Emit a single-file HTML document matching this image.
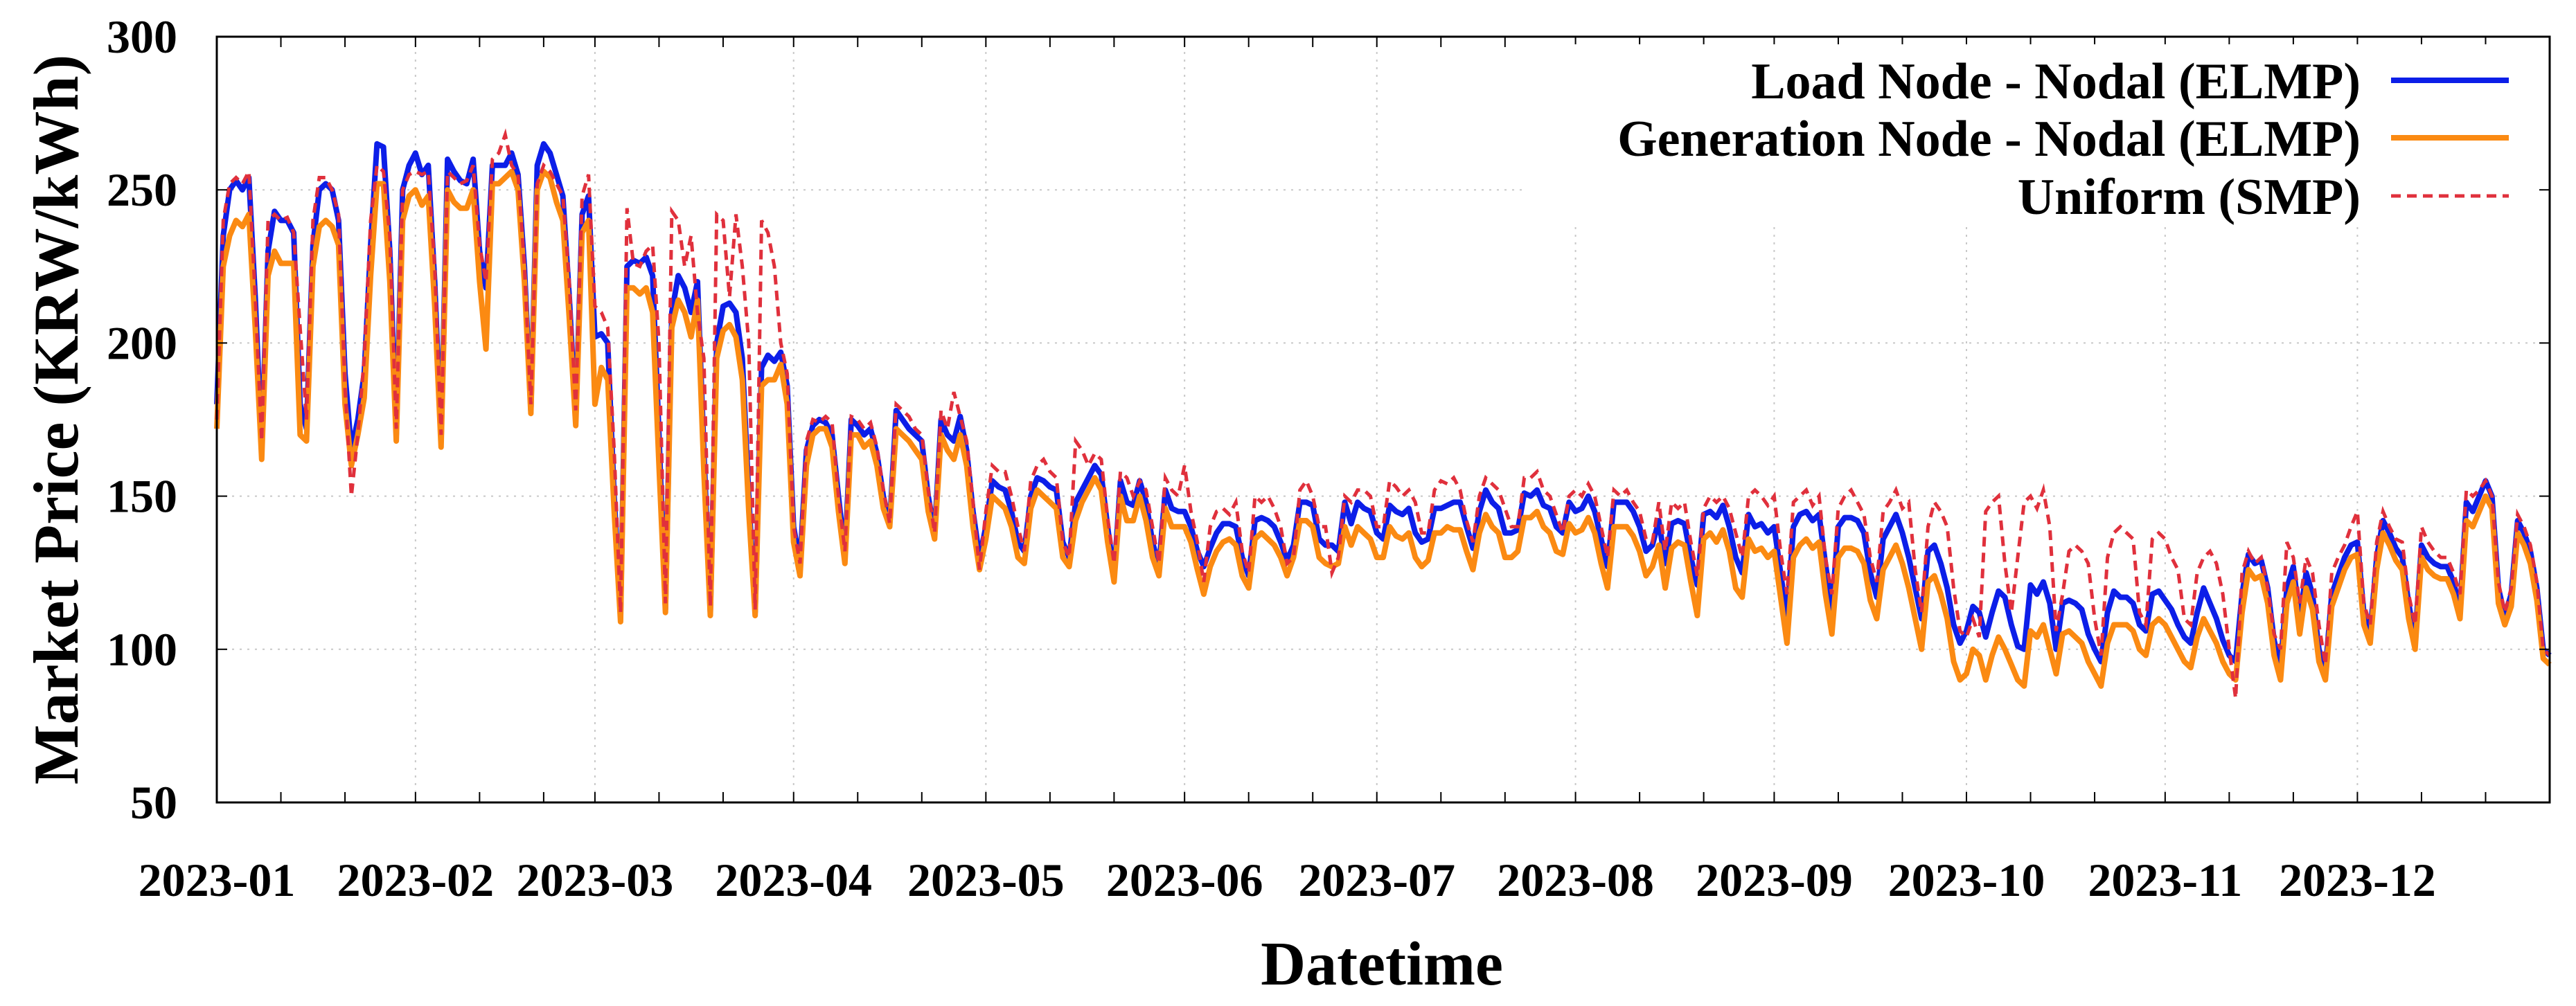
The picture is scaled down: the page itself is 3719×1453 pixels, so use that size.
<!DOCTYPE html>
<html><head><meta charset="utf-8"><style>
html,body{margin:0;padding:0;background:#fff;}
svg{display:block;font-family:"Liberation Serif",serif;font-weight:bold;}
</style></head><body>
<svg id="chart" width="3719" height="1453" viewBox="0 0 3719 1453" xmlns="http://www.w3.org/2000/svg">
<rect x="0" y="0" width="3719" height="1453" fill="#fff"/>
<g id="grid"></g>
<g id="series"></g>
<rect x="313" y="53" width="3368" height="1106" fill="none" stroke="#000" stroke-width="3"/>
<g id="ticks"></g>
<text transform="translate(112,606) rotate(-90)" text-anchor="middle" font-size="92">Market Price (KRW/kWh)</text>
<text x="1995" y="1422" text-anchor="middle" font-size="90">Datetime</text>
<g>
<rect x="2200" y="64" width="1465" height="260" fill="#fff"/>
<text x="3408" y="142" text-anchor="end" font-size="74">Load Node - Nodal (ELMP)</text>
<line x1="3452" y1="116" x2="3622" y2="116" stroke="#0c1ee8" stroke-width="8"/>
<text x="3408" y="225" text-anchor="end" font-size="74">Generation Node - Nodal (ELMP)</text>
<line x1="3452" y1="199" x2="3622" y2="199" stroke="#fb8a12" stroke-width="8"/>
<text x="3408" y="309" text-anchor="end" font-size="74">Uniform (SMP)</text>
<line x1="3452" y1="283" x2="3622" y2="283" stroke="#e0303c" stroke-width="5" stroke-dasharray="14,9"/>
</g>
</svg>
<script>
const yTicks=[50,100,150,200,250,300];
const monthLabels=["2023-01","2023-02","2023-03","2023-04","2023-05","2023-06","2023-07","2023-08","2023-09","2023-10","2023-11","2023-12"];
const monthStartDays=[0,31,59,90,120,151,181,212,243,273,304,334];
const loadNode=[
180,235,250,253,250,254,215, 165,230,243,240,240,236,180, 172,232,250,252,250,240,190, 165,175,190,232,265,264,230,
170,250,258,262,255,258,220, 168,260,256,253,252,260,230, 218,258,258,258,262,255,225, 178,258,265,262,255,248,215,
175,242,248,202,203,200,150, 111,225,227,226,228,222,170, 113,210,222,218,210,220,165, 112,200,212,213,210,195,150,
112,192,196,194,197,186,140, 128,165,173,175,174,170,150, 131,175,173,170,172,164,150, 141,178,175,172,170,168,150,
138,175,170,168,176,165,145, 130,140,155,153,152,145,135, 132,150,156,155,153,152,135, 130,148,152,156,160,157,140,
124,155,148,147,155,148,135, 127,152,146,145,145,140,132, 127,133,138,141,141,140,130, 124,142,143,142,140,135,129,
134,148,148,147,136,134,134, 132,148,141,148,146,145,138, 136,147,145,144,146,138,135, 136,146,146,147,148,148,140,
133,145,152,148,146,138,138, 139,151,150,152,147,146,140, 138,148,145,146,150,145,136, 127,148,148,148,145,140,132,
134,142,128,141,142,141,130, 121,144,145,143,147,140,130, 125,144,140,141,138,140,125, 110,140,144,145,142,144,128,
113,140,143,143,142,138,125, 117,136,140,144,138,130,120, 110,132,134,128,120,108,102, 106,114,112,104,112,119,117,
108,101,100,121,118,122,115, 100,115,116,115,113,105,100, 96,112,119,117,117,115,108, 106,118,119,116,113,108,104,
102,112,120,115,110,103,98, 96,118,131,128,129,120,103, 94,120,127,110,125,118,100, 93,118,124,130,134,135,112,
105,130,142,138,133,130,115, 103,134,130,128,127,127,122, 113,148,145,150,155,150,120, 111,118,142,138,132,120,100,
98];
const generationNode=[
172,225,235,240,238,242,205, 162,222,230,226,226,226,170, 168,225,238,240,238,232,180, 160,170,182,222,252,252,220,
168,240,248,250,245,248,212, 166,250,246,244,244,250,220, 198,252,252,254,256,250,220, 177,250,256,254,246,240,208,
173,236,240,180,192,188,145, 109,218,218,216,218,210,160, 112,205,214,210,202,214,158, 111,195,204,206,202,188,145,
111,186,188,188,193,180,135, 124,160,170,172,172,166,145, 128,170,170,166,168,160,146, 140,172,170,168,165,162,145,
136,170,165,162,170,160,140, 126,136,150,148,146,140,130, 128,146,152,150,148,146,130, 127,142,148,152,156,152,135,
122,150,142,142,150,142,130, 124,146,140,140,140,135,126, 118,127,132,135,136,134,124, 120,136,138,136,134,130,124,
130,142,142,140,130,128,127, 128,140,134,140,138,136,130, 130,140,137,136,138,130,127, 129,138,138,140,139,139,132,
126,138,144,140,138,130,130, 132,143,143,145,140,138,132, 131,141,138,139,143,138,128, 120,140,140,140,137,132,124,
127,134,120,133,135,134,122, 111,136,138,135,139,132,120, 117,136,132,133,130,132,117, 102,130,134,136,133,135,118,
105,130,133,133,132,128,116, 110,126,130,134,128,120,110, 100,122,124,118,110,96,90, 92,100,98,90,98,104,100,
95,90,88,106,104,108,100, 92,105,106,104,102,96,92, 88,102,108,108,108,106,100, 98,108,110,108,104,100,96,
94,104,110,106,102,96,92, 90,112,126,123,124,115,98, 90,115,122,105,120,113,96, 90,114,120,126,130,131,108,
102,126,138,134,129,126,110, 100,130,126,124,123,123,118, 110,142,140,145,150,146,115, 108,114,138,134,128,116,97,
95];
const uniformSMP=[
175,240,252,254,252,256,215, 168,240,242,240,241,236,205, 175,240,254,254,250,242,185, 150,170,195,240,258,256,235,
172,250,255,256,255,256,225, 170,256,254,252,253,258,232, 220,260,262,268,258,255,225, 180,252,258,256,252,248,220,
178,248,255,212,210,205,165, 112,244,226,225,230,232,200, 115,243,240,225,235,210,195, 114,242,240,215,242,225,200,
113,240,236,225,200,190,140, 128,168,175,174,176,174,150, 132,176,175,172,174,166,152, 141,180,178,176,172,170,152,
138,178,172,184,176,168,148, 126,145,160,158,158,150,140, 132,155,160,162,158,156,135, 130,168,165,160,164,162,143,
128,158,156,150,155,152,140, 128,156,152,150,160,145,135, 122,140,145,146,144,148,132, 125,150,148,150,146,140,128,
130,152,155,150,140,140,125, 130,150,148,152,152,150,140, 140,155,153,150,152,148,138, 138,152,155,154,156,152,142,
135,150,156,154,152,146,140, 140,156,156,158,152,150,144, 138,150,152,150,154,150,140, 130,152,150,152,148,145,136,
135,148,132,148,146,148,135, 124,146,150,148,150,146,138, 130,150,152,150,147,150,132, 118,148,150,152,147,150,130,
118,146,150,152,148,144,130, 122,145,148,152,146,148,126, 112,140,148,145,140,120,106, 104,110,104,145,148,150,128,
112,130,148,150,146,152,140, 106,118,132,134,132,128,110, 98,130,138,140,138,136,112, 108,136,138,136,130,126,110,
108,125,130,132,128,118,100, 84,125,132,128,130,120,105, 100,135,130,115,130,125,108, 95,125,130,134,140,145,115,
108,135,145,140,136,135,118, 108,140,135,132,130,130,125, 118,152,150,152,155,150,122, 112,120,144,140,134,122,100,
98];

const NS="http://www.w3.org/2000/svg";
const X0=313,X1=3681,Y0=1159,Y1=53,DMIN=0,DMAX=364,VMIN=50,VMAX=300;
function xs(d){return X0+(d-DMIN)/(DMAX-DMIN)*(X1-X0);}
function ys(v){return Y0-(v-VMIN)/(VMAX-VMIN)*(Y0-Y1);}
function mk(tag,attrs,parent){const e=document.createElementNS(NS,tag);for(const k in attrs)e.setAttribute(k,attrs[k]);parent.appendChild(e);return e;}
const grid=document.getElementById('grid'),ticks=document.getElementById('ticks'),series=document.getElementById('series');
yTicks.forEach(v=>{
  const y=ys(v);
  if(v>VMIN&&v<VMAX){
    const g=mk('line',{x1:X0,x2:X1,y1:y,y2:y,stroke:'#c8c8c8','stroke-width':2,'stroke-dasharray':'3,8'},grid);
    
    
    const t1=mk('line',{x1:X0,x2:X0+15,y1:y,y2:y,stroke:'#000','stroke-width':2},ticks);
    
    
    const t2=mk('line',{x1:X1-15,x2:X1,y1:y,y2:y,stroke:'#000','stroke-width':2},ticks);
    
    
  }
  const lb=mk('text',{x:256,y:y+23,'text-anchor':'end','font-size':68},ticks);
  lb.textContent=v;
  
  
});
monthStartDays.forEach((d,i)=>{
  const x=xs(d);
  if(d>0){
    const g=mk('line',{x1:x,x2:x,y1:Y1,y2:Y0,stroke:'#c8c8c8','stroke-width':2,'stroke-dasharray':'3,8'},grid);
    
    
  }
  [0,10,20].forEach(off=>{
    const dd=d+off; if(dd>DMAX||(i<11&&dd>=monthStartDays[i+1]))return;
    const xx=xs(dd);
    const b=mk('line',{x1:xx,x2:xx,y1:Y0-15,y2:Y0,stroke:'#000','stroke-width':2},ticks);
    
    
    const t=mk('line',{x1:xx,x2:xx,y1:Y1,y2:Y1+15,stroke:'#000','stroke-width':2},ticks);
    
    
  });
  const lb=mk('text',{x:x,y:1294,'text-anchor':'middle','font-size':68},ticks);
  lb.textContent=monthLabels[i];
  
  
});
function pts(arr){return arr.map((v,i)=>xs(i).toFixed(1)+','+ys(v).toFixed(1)).join(' ');}
const pl1=mk('polyline',{points:pts(loadNode),fill:'none',stroke:'#0c1ee8','stroke-width':8,'stroke-linejoin':'round'},series);


const pl2=mk('polyline',{points:pts(generationNode),fill:'none',stroke:'#fb8a12','stroke-width':8,'stroke-linejoin':'round'},series);


const pl3=mk('polyline',{points:pts(uniformSMP),fill:'none',stroke:'#e0303c','stroke-width':5,'stroke-dasharray':'14,9'},series);


</script>
</body></html>
